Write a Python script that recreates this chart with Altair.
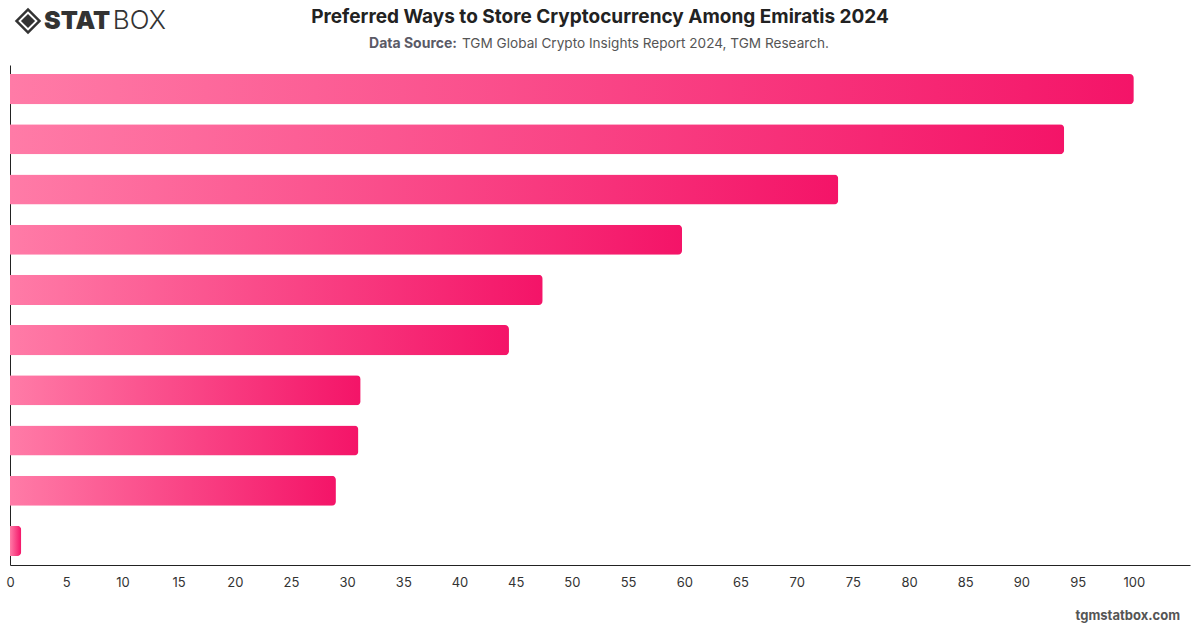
import altair as alt
import pandas as pd

categories = [
    "Centralized exchange wallet",
    "Mobile software wallet",
    "Desktop software wallet",
    "Hardware wallet",
    "Web wallet",
    "Paper wallet",
    "Custodial service",
    "Brokerage account",
    "Multi-signature wallet",
    "Other",
]
values = [100.0, 93.8, 73.7, 59.8, 47.4, 44.4, 31.2, 31.0, 29.0, 1.0]
x_ticks = list(range(0, 101, 5))

title_text = "Preferred Ways to Store Cryptocurrency Among Emiratis 2024"
source_bold = "Data Source:"
source_rest = "TGM Global Crypto Insights Report 2024, TGM Research."
footer_text = "tgmstatbox.com"

df = pd.DataFrame({"category": categories, "value": values})

gradient = alt.Gradient(
    gradient="linear",
    stops=[alt.GradientStop(color="#ff7ba7", offset=0), alt.GradientStop(color="#f41468", offset=1)],
    x1=0, x2=1, y1=0, y2=0,
)

bars = alt.Chart(df).mark_bar(color=gradient, cornerRadiusEnd=4).encode(
    x=alt.X("value:Q", scale=alt.Scale(domain=[0, 105], nice=False),
            axis=alt.Axis(values=x_ticks, title=None, grid=False, ticks=False,
                          labelPadding=11, labelFontSize=13, labelColor="#333",
                          labelFont="Inter", domainColor="#222", labelFlush=False)),
    y=alt.Y("category:N", sort=None, scale=alt.Scale(paddingInner=0.4, paddingOuter=0.18),
            axis=alt.Axis(labels=False, ticks=False, title=None, domainColor="#222")),
)

def txt(s, x, y, size, weight, color, align="center", font="Inter"):
    return alt.Chart(pd.DataFrame({"t": [s]})).mark_text(
        fontSize=size, fontWeight=weight, color=color, align=align, baseline="middle", font=font
    ).encode(text="t:N", x=alt.value(x), y=alt.value(y))

title = txt(title_text, 590, -48, 19, "bold", "#222")
sub1 = txt(source_bold, 447, -21, 14, "bold", "#5a5a66", align="right")
sub2 = txt(source_rest, 452, -21, 13.6, "normal", "#555", align="left")
footer = txt(footer_text, 1170, 551, 13, "bold", "#555", align="right")

logo1 = txt("STAT", 34, -44, 25, 900, "#333", align="left")
logo2 = txt("BOX", 156, -44, 26, 300, "#333", align="right")

def diamond(size, color):
    return alt.Chart(pd.DataFrame({"a": [0]})).mark_point(
        shape="diamond", filled=True, size=size, color=color, opacity=1
    ).encode(x=alt.value(18), y=alt.value(-44))

icon = diamond(700, "#333") + diamond(380, "white") + diamond(200, "#333")

chart = alt.layer(bars, title, sub1, sub2, footer, logo1, logo2, icon).properties(
    width=1180, height=500,
    autosize=alt.AutoSizeParams(type="none"),
    padding={"left": 10, "top": 65, "right": 10, "bottom": 63},
).configure_view(stroke=None)

chart.save("out.html", embed_options={"renderer": "svg", "actions": False})
